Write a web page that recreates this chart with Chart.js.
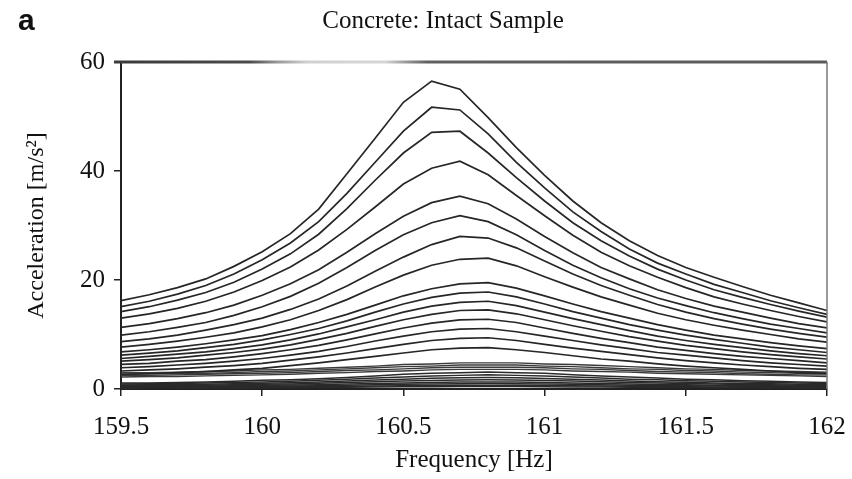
<!DOCTYPE html>
<html>
<head>
<meta charset="utf-8">
<title>Concrete: Intact Sample</title>
<script src="https://cdn.jsdelivr.net/npm/chart.js@4.4.0/dist/chart.umd.min.js"></script>
<style>
  html, body { margin: 0; padding: 0; background: #fff; }
  #wrap { width: 852px; height: 479px; }
</style>
</head>
<body>
<div id="wrap"><canvas id="resonance-chart" width="852" height="479"></canvas></div>
<script>
// sweep frequencies [Hz]
const freqs = [159.5, 159.6, 159.7, 159.8, 159.9, 160.0, 160.1, 160.2, 160.3, 160.4, 160.5, 160.6, 160.7,
  160.8, 160.9, 161.0, 161.1, 161.2, 161.3, 161.4, 161.5, 161.6, 161.7, 161.8, 161.9, 162.0];

// acceleration response [m/s^2], one row per excitation level (strongest first)
const highRuns = [
  [16.2, 17.3, 18.6, 20.2, 22.5, 25.2, 28.5, 33.0, 39.5, 46.0, 52.6, 56.5, 55.0, 49.8, 44.3, 39.2, 34.5, 30.5, 27.2, 24.5, 22.3, 20.5, 18.8, 17.2, 15.8, 14.4],
  [15.1, 16.1, 17.4, 19.0, 21.1, 23.7, 26.8, 30.7, 35.9, 41.6, 47.3, 51.7, 51.2, 46.8, 41.6, 36.9, 32.5, 28.9, 25.7, 23.1, 21.1, 19.2, 17.7, 16.2, 14.9, 13.7],
  [14.2, 15.1, 16.3, 17.7, 19.6, 22.0, 24.8, 28.4, 33.1, 38.3, 43.3, 47.1, 47.3, 43.3, 38.8, 34.5, 30.5, 27.2, 24.4, 22.0, 20.0, 18.2, 16.8, 15.5, 14.3, 13.2],
  [13.0, 13.8, 14.8, 16.1, 17.8, 19.9, 22.4, 25.5, 29.3, 33.4, 37.6, 40.5, 41.8, 39.3, 35.5, 31.8, 28.2, 25.1, 22.6, 20.5, 18.6, 16.9, 15.6, 14.4, 13.3, 12.3],
  [11.3, 12.0, 12.9, 14.0, 15.4, 17.2, 19.3, 21.9, 25.1, 28.5, 31.7, 34.2, 35.4, 34.0, 31.2, 28.0, 25.0, 22.3, 20.2, 18.2, 16.6, 15.2, 14.1, 13.0, 12.0, 11.2],
  [9.9, 10.5, 11.3, 12.2, 13.5, 15.1, 17.0, 19.4, 22.3, 25.4, 28.3, 30.5, 31.8, 30.7, 28.3, 25.4, 22.7, 20.4, 18.4, 16.7, 15.3, 14.0, 12.9, 11.9, 11.1, 10.3],
  [8.7, 9.2, 9.9, 10.8, 11.8, 13.0, 14.6, 16.5, 18.9, 21.6, 24.2, 26.5, 28.0, 27.7, 25.9, 23.5, 21.1, 19.0, 17.2, 15.5, 14.1, 12.9, 11.9, 11.0, 10.2, 9.5],
  [7.7, 8.2, 8.8, 9.5, 10.3, 11.4, 12.7, 14.4, 16.4, 18.7, 20.9, 22.7, 23.8, 24.0, 22.6, 20.6, 18.7, 16.9, 15.4, 13.9, 12.7, 11.7, 10.8, 10.0, 9.2, 8.6],
  [6.8, 7.2, 7.7, 8.3, 9.0, 9.8, 10.9, 12.2, 13.7, 15.4, 17.1, 18.4, 19.3, 19.5, 18.5, 17.1, 15.6, 14.2, 13.0, 11.8, 10.8, 9.9, 9.2, 8.5, 7.9, 7.4],
  [6.2, 6.6, 7.0, 7.6, 8.2, 9.0, 10.0, 11.1, 12.5, 14.1, 15.6, 16.8, 17.6, 17.8, 16.9, 15.6, 14.2, 13.0, 11.8, 10.8, 9.9, 9.1, 8.4, 7.7, 7.2, 6.7],
  [5.6, 6.0, 6.4, 6.8, 7.4, 8.1, 9.0, 10.1, 11.4, 12.7, 14.1, 15.2, 15.9, 16.1, 15.3, 14.1, 12.9, 11.8, 10.7, 9.7, 8.9, 8.2, 7.6, 7.0, 6.5, 6.1],
  [5.1, 5.4, 5.7, 6.2, 6.7, 7.3, 8.1, 9.1, 10.2, 11.5, 12.7, 13.7, 14.4, 14.5, 13.8, 12.7, 11.6, 10.6, 9.6, 8.8, 8.0, 7.4, 6.8, 6.3, 5.9, 5.5],
  [4.5, 4.7, 5.1, 5.4, 5.9, 6.5, 7.2, 8.0, 9.0, 10.1, 11.2, 12.1, 12.7, 12.8, 12.2, 11.2, 10.2, 9.3, 8.5, 7.7, 7.1, 6.5, 6.0, 5.6, 5.2, 4.8],
  [3.9, 4.1, 4.4, 4.7, 5.1, 5.6, 6.2, 6.9, 7.8, 8.8, 9.7, 10.5, 11.0, 11.1, 10.5, 9.7, 8.9, 8.1, 7.4, 6.7, 6.2, 5.7, 5.2, 4.8, 4.5, 4.2],
  [3.3, 3.5, 3.7, 4.0, 4.3, 4.7, 5.3, 5.9, 6.6, 7.4, 8.2, 8.9, 9.3, 9.4, 8.9, 8.2, 7.5, 6.9, 6.3, 5.7, 5.2, 4.8, 4.4, 4.1, 3.8, 3.6],
  [2.7, 2.8, 3.0, 3.2, 3.5, 3.8, 4.3, 4.8, 5.4, 6.0, 6.6, 7.2, 7.5, 7.6, 7.2, 6.7, 6.1, 5.5, 5.1, 4.6, 4.2, 3.9, 3.6, 3.3, 3.0, 2.9]
];

// low excitation levels, flat response
const bandRuns = [
  [3.0, 3.0, 3.1, 3.2, 3.3, 3.5, 3.6, 3.8, 4.0, 4.2, 4.5, 4.6, 4.8, 4.8, 4.8, 4.6, 4.5, 4.3, 4.1, 3.9, 3.7, 3.6, 3.4, 3.3, 3.2, 3.1],
  [2.7, 2.8, 2.8, 2.9, 3.0, 3.2, 3.3, 3.5, 3.7, 3.9, 4.1, 4.2, 4.4, 4.4, 4.4, 4.2, 4.1, 3.9, 3.7, 3.6, 3.4, 3.3, 3.1, 3.0, 2.9, 2.8],
  [2.5, 2.5, 2.6, 2.7, 2.8, 2.9, 3.0, 3.2, 3.4, 3.5, 3.7, 3.9, 4.0, 4.0, 4.0, 3.9, 3.7, 3.6, 3.4, 3.2, 3.1, 3.0, 2.8, 2.7, 2.6, 2.6],
  [2.2, 2.3, 2.3, 2.4, 2.5, 2.6, 2.7, 2.9, 3.0, 3.2, 3.3, 3.5, 3.6, 3.6, 3.6, 3.5, 3.3, 3.2, 3.1, 2.9, 2.8, 2.7, 2.6, 2.5, 2.4, 2.3]
];

// lowest levels, close to the noise floor
const floorRuns = [
  [1.1, 1.1, 1.2, 1.3, 1.4, 1.6, 1.7, 1.9, 2.1, 2.4, 2.7, 2.9, 3.0, 3.1, 3.0, 2.9, 2.6, 2.4, 2.2, 2.0, 1.8, 1.7, 1.5, 1.4, 1.3, 1.2],
  [0.91, 0.96, 1.0, 1.1, 1.2, 1.3, 1.4, 1.6, 1.8, 2.0, 2.2, 2.4, 2.5, 2.6, 2.5, 2.4, 2.2, 2.0, 1.8, 1.7, 1.5, 1.4, 1.3, 1.2, 1.1, 1.0],
  [0.74, 0.78, 0.82, 0.88, 0.96, 1.05, 1.16, 1.28, 1.45, 1.63, 1.81, 1.95, 2.06, 2.1, 2.06, 1.94, 1.79, 1.63, 1.48, 1.34, 1.23, 1.12, 1.03, 0.95, 0.87, 0.81],
  [0.6, 0.63, 0.66, 0.71, 0.77, 0.85, 0.94, 1.04, 1.17, 1.32, 1.46, 1.58, 1.67, 1.7, 1.67, 1.57, 1.45, 1.32, 1.2, 1.09, 0.99, 0.91, 0.83, 0.77, 0.71, 0.65],
  [0.46, 0.48, 0.51, 0.55, 0.59, 0.65, 0.72, 0.79, 0.9, 1.0, 1.12, 1.21, 1.27, 1.3, 1.27, 1.2, 1.1, 1.0, 0.92, 0.83, 0.76, 0.7, 0.64, 0.59, 0.54, 0.5],
  [0.35, 0.37, 0.39, 0.42, 0.46, 0.5, 0.55, 0.61, 0.69, 0.78, 0.86, 0.93, 0.98, 1.0, 0.98, 0.93, 0.85, 0.78, 0.71, 0.64, 0.59, 0.54, 0.49, 0.45, 0.42, 0.39],
  [0.25, 0.26, 0.27, 0.29, 0.32, 0.35, 0.39, 0.43, 0.48, 0.54, 0.6, 0.65, 0.69, 0.7, 0.69, 0.65, 0.6, 0.54, 0.49, 0.45, 0.41, 0.37, 0.34, 0.32, 0.29, 0.27],
  [0.16, 0.17, 0.18, 0.19, 0.2, 0.23, 0.25, 0.27, 0.31, 0.35, 0.39, 0.42, 0.44, 0.45, 0.44, 0.42, 0.38, 0.35, 0.32, 0.29, 0.26, 0.24, 0.22, 0.2, 0.19, 0.17]
];

const xTicks = [159.5, 160, 160.5, 161, 161.5, 162];
const yTicks = [0, 20, 40, 60];

const serif = '"Liberation Serif", "Times New Roman", serif';

function toSeries(run, width, color) {
  return {
    data: run.map((a, i) => ({ x: freqs[i], y: a })),
    borderColor: color,
    borderWidth: width,
    pointRadius: 0,
    tension: 0,
    fill: false
  };
}

const datasets = [
  ...highRuns.map((r) => toSeries(r, 1.7, '#262626')),
  ...bandRuns.map((r) => toSeries(r, 1.4, '#3a3a3a')),
  ...floorRuns.map((r) => toSeries(r, 1.5, '#2a2a2a'))
];

// box edges and the heading
const framePlugin = {
  id: 'frame',
  afterDraw(chart) {
    const { ctx, chartArea } = chart;
    const { left, top, right, bottom } = chartArea;
    ctx.save();
    // top edge: dark on the left, washed out around 160.1-160.5
    const grad = ctx.createLinearGradient(left - 7, 0, right, 0);
    grad.addColorStop(0, '#3a3a3a');
    grad.addColorStop(0.19, '#4a4a4a');
    grad.addColorStop(0.23, '#9a9a9a');
    grad.addColorStop(0.27, '#d0d0d0');
    grad.addColorStop(0.38, '#d6d6d6');
    grad.addColorStop(0.41, '#999');
    grad.addColorStop(0.44, '#606060');
    grad.addColorStop(1, '#5a5a5a');
    ctx.strokeStyle = grad;
    ctx.lineWidth = 3;
    ctx.beginPath();
    ctx.moveTo(left - 7, top);
    ctx.lineTo(right, top);
    ctx.stroke();

    ctx.strokeStyle = '#777';
    ctx.lineWidth = 1.5;
    ctx.beginPath();
    ctx.moveTo(right, top);
    ctx.lineTo(right, bottom);
    ctx.stroke();

    ctx.fillStyle = '#111';
    ctx.textBaseline = 'middle';
    ctx.textAlign = 'center';
    ctx.font = '25px ' + serif;
    ctx.fillText('Concrete: Intact Sample', 443, 21);

    ctx.textAlign = 'left';
    ctx.font = 'bold 30px "Liberation Sans", Arial, sans-serif';
    ctx.fillText('a', 18, 22);
    ctx.restore();
  }
};

new Chart(document.getElementById('resonance-chart'), {
  type: 'line',
  data: { datasets: datasets },
  plugins: [framePlugin],
  options: {
    responsive: false,
    animation: false,
    devicePixelRatio: 1,
    layout: { padding: { top: 62, right: 25, bottom: 0, left: 0 } },
    plugins: {
      legend: { display: false },
      tooltip: { enabled: false },
      title: { display: false }
    },
    scales: {
      x: {
        type: 'linear',
        min: 159.5,
        max: 162,
        afterBuildTicks: (scale) => { scale.ticks = xTicks.map((v) => ({ value: v })); },
        afterFit: (scale) => {
          scale.height = 90;
          scale.paddingLeft = 0;
          scale.paddingRight = 0;
        },
        ticks: {
          color: '#111',
          padding: 16,
          maxRotation: 0,
          font: { family: serif, size: 25 },
          callback: (v) => String(v)
        },
        grid: { drawOnChartArea: false, drawTicks: true, tickLength: 7, color: '#222', lineWidth: 1.5 },
        border: { display: true, color: '#222', width: 2 },
        title: {
          display: true,
          text: 'Frequency [Hz]',
          color: '#111',
          font: { family: serif, size: 25 },
          padding: { top: 0, bottom: 4 }
        }
      },
      y: {
        min: 0,
        max: 60,
        afterBuildTicks: (scale) => { scale.ticks = yTicks.map((v) => ({ value: v })); },
        afterFit: (scale) => {
          scale.width = 121;
          scale.paddingTop = 0;
          scale.paddingBottom = 0;
        },
        ticks: {
          color: '#111',
          padding: 9,
          font: { family: serif, size: 25 },
          callback: (v) => String(v)
        },
        grid: { drawOnChartArea: false, drawTicks: true, tickLength: 7, color: '#222', lineWidth: 1.5 },
        border: { display: true, color: '#222', width: 2 },
        title: {
          display: true,
          text: 'Acceleration [m/s²]',
          color: '#111',
          font: { family: serif, size: 24 },
          padding: { top: 22, bottom: 0 }
        }
      }
    }
  }
});
</script>
</body>
</html>
